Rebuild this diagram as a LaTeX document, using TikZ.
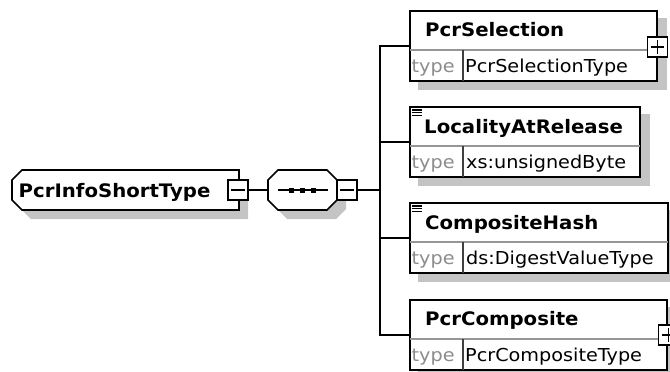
\documentclass[tikz,border=0pt]{standalone}
\usepackage{fontspec}
\setmainfont{DejaVu Sans}
\newfontfamily\efont{DejaVu Sans}[FakeStretch=1.06]
\newfontfamily\tfont{DejaVu Sans}[FakeStretch=1.08]
\usetikzlibrary{calc}
\definecolor{shd}{RGB}{196,196,196}
\definecolor{typegray}{RGB}{140,140,140}
\definecolor{divgray}{RGB}{150,150,150}
\pgfdeclarelayer{bg}
\pgfsetlayers{bg,main}
\begin{document}
\begin{tikzpicture}[x=1pt,y=-1pt,
  ebox/.style={draw=black,line width=1.6pt,fill=white,rectangle,minimum height=70pt,inner sep=0pt,anchor=north west},
  pm/.style={draw=black,line width=1.5pt,fill=white,rectangle,minimum size=20pt,inner sep=0pt},
  conn/.style={line width=1.5pt},
  sym/.style={line width=1.4pt},
  ename/.style={anchor=base west,inner sep=0pt,font={\efont\bfseries\fontsize{18.6}{20}\selectfont}},
  tlab/.style={anchor=base west,inner sep=0pt,text=typegray,font={\tfont\fontsize{17.8}{20}\selectfont}},
  tval/.style={anchor=base west,inner sep=0pt,font={\tfont\fontsize{17.8}{20}\selectfont}},
  divh/.style={draw=divgray,line width=1.2pt},
  divv/.style={draw=black!75,line width=1.3pt},
  shadowfill/.style={fill=shd,draw=none},
  outline/.style={draw=black,line width=1.6pt,fill=white},
]
\useasboundingbox (0,0) rectangle (670,372);

% root complex type
\path[shadowfill,shift={(9,9)}] (22,170) -- (239,170) -- (239,210) -- (22,210) -- (12,200) -- (12,180) -- cycle;
\path[outline] (22,170) -- (239,170) -- (239,210) -- (22,210) -- (12,200) -- (12,180) -- cycle;
\node[inner sep=0pt,minimum width=227pt,minimum height=40pt] (root) at (125.5,190) {};
\node[ename] (rootname) at (18.5,197) {PcrInfoShortType};
\node[pm] (rm) at (238,190) {};
\draw[sym] ([xshift=4pt]rm.west) -- ([xshift=-4pt]rm.east);

% sequence compositor
\path[shadowfill,shift={(9,9)}] (278,170) -- (327,170) -- (337,180) -- (337,200) -- (327,210) -- (278,210) -- (268,200) -- (268,180) -- cycle;
\path[outline] (278,170) -- (327,170) -- (337,180) -- (337,200) -- (327,210) -- (278,210) -- (268,200) -- (268,180) -- cycle;
\node[inner sep=0pt,minimum width=69pt,minimum height=40pt] (seq) at (302.5,190) {};
\draw[sym] (278,190) -- (328,190);
\foreach \cx in {291,302,313} { \fill (\cx-2.5,187.5) rectangle (\cx+2.5,192.5); }
\node[pm] (sm) at (347,190) {};
\draw[sym] ([xshift=4pt]sm.west) -- ([xshift=-4pt]sm.east);

\coordinate (bus) at (380,190);

% element boxes
\node[ebox,minimum width=247pt] (e1) at (409,10) {};
\node[ebox,minimum width=230pt] (e2) at (409,106) {};
\node[ebox,minimum width=258pt] (e3) at (409,202) {};
\node[ebox,minimum width=257pt] (e4) at (409,299) {};

\begin{pgfonlayer}{bg}
\foreach \e in {e1,e2,e3,e4} {
  \path[shadowfill] ($(\e.north west)+(9,8)$) rectangle ($(\e.south east)+(9,8)$);
}
\end{pgfonlayer}

\foreach \e in {e1,e2,e3,e4} {
  \draw[divh] ($(\e.north west)+(0.8,40)$) -- ($(\e.north east)+(-0.8,40)$);
  \draw[divv] ($(\e.north west)+(54,40)$) -- ($(\e.south west)+(54,-0.8)$);
}

\node[ename] (n1) at ($(e1.north west)+(16,26)$) {PcrSelection};
\node[ename] (n2) at ($(e2.north west)+(15,27)$) {LocalityAtRelease};
\node[ename] (n3) at ($(e3.north west)+(16,27)$) {CompositeHash};
\node[ename] (n4) at ($(e4.north west)+(16,26)$) {PcrComposite};

\foreach \e in {e1,e2,e3,e4} {
  \node[tlab] at ($(\e.north west)+(2.5,62)$) {type};
}
\node[tval] (v1) at ($(e1.north west)+(56,62)$) {PcrSelectionType};
\node[tval] (v2) at ($(e2.north west)+(57,62)$) {xs:unsignedByte};
\node[tval] (v3) at ($(e3.north west)+(57,62)$) {ds:DigestValueType};
\node[tval] (v4) at ($(e4.north west)+(56,62)$) {PcrCompositeType};

% simple-content icons
\foreach \e in {e2,e3} {
  \foreach \dy in {4,6.8,9.6} {
    \draw[line width=1.1pt] ($(\e.north west)+(3,\dy)$) -- ++(10,0);
  }
}

% expand boxes
\node[pm] (p1) at ($(e1.north east)+(0,37)$) {};
\draw[sym] ([xshift=4pt]p1.west) -- ([xshift=-4pt]p1.east) ([yshift=-4pt]p1.north) -- ([yshift=4pt]p1.south);
\node[pm] (p4) at ($(e4.north east)+(1,36)$) {};
\draw[sym] ([xshift=4pt]p4.west) -- ([xshift=-4pt]p4.east) ([yshift=-4pt]p4.north) -- ([yshift=4pt]p4.south);

% connectors
\draw[conn] (rm.east) -- (seq.west);
\draw[conn] (sm.east) -- (bus);
\draw[conn] (e1.west) -- (e1.west -| bus) -- (e4.west -| bus) -- (e4.west);
\foreach \e in {e2,e3} {
  \draw[conn] (\e.west -| bus) -- (\e.west);
}
\end{tikzpicture}
\end{document}
